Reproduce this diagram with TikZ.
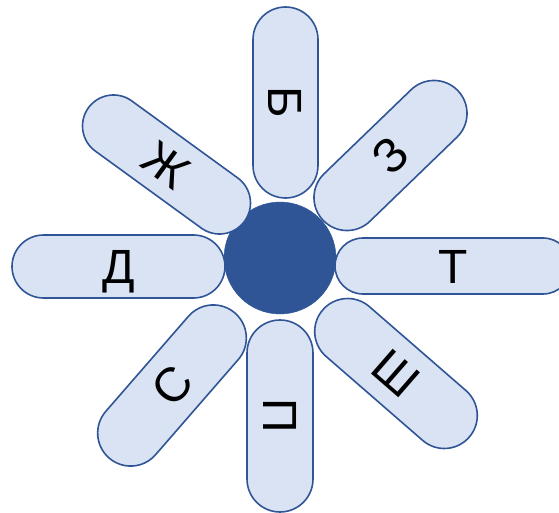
\documentclass[tikz,border=0pt]{standalone}
\usepackage{fontspec}
\setmainfont{Liberation Sans}
\definecolor{petalfill}{RGB}{218,227,243}
\definecolor{petaldraw}{RGB}{47,85,151}
\usetikzlibrary{shapes.misc}

\begin{document}
\begin{tikzpicture}[x=1pt,y=-1pt,
  petal/.style={rounded rectangle,draw=petaldraw,fill=petalfill,line width=1.6pt,
    minimum height=64pt,minimum width=192pt,inner sep=0pt,
    text height=34pt,text depth=0pt,font=\fontsize{48}{48}\selectfont},
  hub/.style={circle,fill=petaldraw,draw=petaldraw,minimum size=112pt,inner sep=0pt}
]
  \clip (0,0) rectangle (559,513);
  \node[hub] (hub) at (280,258) {};
  % petals, clockwise from the top
  \node[petal,rotate=-90,minimum width=191pt,minimum height=65pt] (be) at (285.5,102.5) {Б};
  \node[petal,rotate=44,minimum width=187pt,minimum height=66pt] (ze) at (390.5,155.5) {З};
  \node[petal,minimum width=236pt,minimum height=56pt] (te) at (453,266) {Т};
  \node[petal,rotate=-41,minimum width=194pt,minimum height=66pt] (sha) at (396,373.5) {Ш};
  \node[petal,rotate=-90,minimum width=192pt,minimum height=66pt] (pe) at (280,416) {П};
  \node[petal,rotate=49,minimum width=192pt,minimum height=66pt] (es) at (172,385.5) {С};
  \node[petal,minimum width=213pt,minimum height=63pt] (de) at (118.5,266.5) {Д};
  \node[petal,rotate=-36,minimum width=193pt,minimum height=62pt] (zhe) at (166.5,164.5) {Ж};
\end{tikzpicture}
\end{document}
